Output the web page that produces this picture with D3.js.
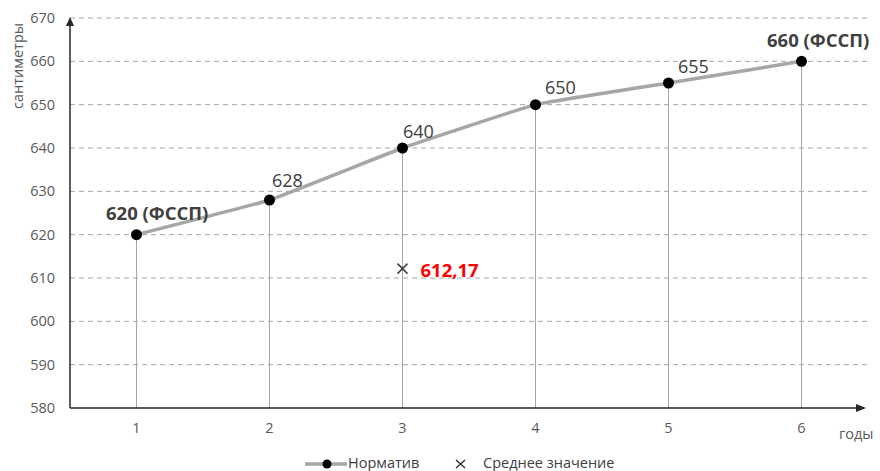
<!DOCTYPE html>
<html><head><meta charset="utf-8">
<script src="https://cdn.jsdelivr.net/npm/d3@7"></script>
<style>body{margin:0;background:#fff}svg{display:block;font-family:"Open Sans",sans-serif}</style>
</head><body><svg id="c" width="880" height="471"></svg>
<script>
const years = [1,2,3,4,5,6];
const norm = [620,628,640,650,655,660];
const normLabels = ["620 (ФССП)","628","640","650","655","660 (ФССП)"];
const boldLabel = [true,false,false,false,false,true];
const meanYear = 3;
const meanValue = 612.17;
const meanLabel = "612,17";
const yTicks = [580,590,600,610,620,630,640,650,660,670];

const svg = d3.select("#c");
const x0 = 70, x1 = 868, yTop = 18, yBot = 408;
const x = d3.scaleBand().domain(years).range([x0, x1]);
const cx = d => x(d) + x.bandwidth()/2;
const y = d3.scaleLinear().domain([580,670]).range([yBot, yTop]);

// gridlines
svg.append("g").selectAll("line").data(yTicks.filter(t=>t>580)).join("line")
  .attr("x1", x0).attr("x2", 870).attr("y1", d=>y(d)).attr("y2", d=>y(d))
  .attr("stroke","#a6a6a6").attr("stroke-dasharray","5,4").attr("stroke-width",1);

// y axis
const yAxis = d3.axisLeft(y).tickValues(yTicks).tickSize(0).tickPadding(15);
const gy = svg.append("g").attr("transform",`translate(${x0},0)`).call(yAxis);
gy.select(".domain").remove();
gy.selectAll("text").attr("fill","#595959").style("font-size","14.5px").style("font-family","'Open Sans',sans-serif");

// x axis
const xAxis = d3.axisBottom(x).tickSize(0).tickPadding(15);
const gx = svg.append("g").attr("transform",`translate(0,${yBot})`).call(xAxis);
gx.select(".domain").remove();
gx.selectAll("text").attr("fill","#595959").style("font-size","14.5px").style("font-family","'Open Sans',sans-serif");

// drop lines
svg.append("g").selectAll("line").data(years).join("line")
  .attr("x1", d=>cx(d)).attr("x2", d=>cx(d))
  .attr("y1", (d,i)=>y(norm[i])).attr("y2", yBot)
  .attr("stroke","#a6a6a6").attr("stroke-width",1);

// axis lines with arrows
svg.append("line").attr("x1",x0).attr("x2",x0).attr("y1",yBot).attr("y2",yTop+6)
  .attr("stroke","#262626").attr("stroke-width",1.5);
svg.append("path").attr("d",`M${x0-4},${yTop+8}L${x0},${yTop-1}L${x0+4},${yTop+8}Z`).attr("fill","#262626");
svg.append("line").attr("x1",x0).attr("x2",858).attr("y1",yBot).attr("y2",yBot)
  .attr("stroke","#262626").attr("stroke-width",1.5);
svg.append("path").attr("d",`M856,${yBot-4}L866,${yBot}L856,${yBot+4}Z`).attr("fill","#262626");

// line
const line = d3.line().x(d=>cx(d[0])).y(d=>y(d[1])).curve(d3.curveCardinal.tension(0.75));
svg.append("path").datum(years.map((d,i)=>[d,norm[i]])).attr("d",line)
  .attr("fill","none").attr("stroke","#a6a6a6").attr("stroke-width",3.5);

svg.append("g").selectAll("circle").data(years).join("circle")
  .attr("cx", d=>cx(d)).attr("cy",(d,i)=>y(norm[i])).attr("r",5.5).attr("fill","#000");

// data labels
const offs = [[-30.5,-15],[2.5,-13],[0.5,-10],[9.5,-11],[9.5,-10],[-34.5,-14]];
svg.append("g").selectAll("text").data(years).join("text")
  .attr("x",(d,i)=>cx(d)+offs[i][0]).attr("y",(d,i)=>y(norm[i])+offs[i][1])
  .attr("fill","#404040")
  .style("font-size",(d,i)=>boldLabel[i]?"18.5px":"18px").style("font-weight",(d,i)=>boldLabel[i]?"bold":"normal")
  .text((d,i)=>normLabels[i]);

// mean marker
const mx = cx(meanYear), my = y(meanValue);
svg.append("path").attr("d",`M${mx-5},${my-5}L${mx+5},${my+5}M${mx-5},${my+5}L${mx+5},${my-5}`)
  .attr("stroke","#404040").attr("stroke-width",1.5);
svg.append("text").attr("x",mx+18).attr("y",my+8).attr("fill","#ff0000")
  .style("font-size","18.5px").style("font-weight","bold").text(meanLabel);

// axis titles
svg.append("text").attr("transform","translate(23,66) rotate(-90)").attr("text-anchor","middle")
  .attr("fill","#595959").style("font-size","14.5px").text("сантиметры");
svg.append("text").attr("x",839).attr("y",439).attr("fill","#595959").style("font-size","14.5px").text("годы");

// legend
const ly = 464;
svg.append("line").attr("x1",305).attr("x2",347).attr("y1",ly).attr("y2",ly).attr("stroke","#a6a6a6").attr("stroke-width",3.5);
svg.append("circle").attr("cx",327).attr("cy",ly).attr("r",4.5).attr("fill","#000");
svg.append("text").attr("x",348).attr("y",ly+4).attr("fill","#404040").style("font-size","14.5px").text("Норматив");
svg.append("path").attr("d",`M456,${ly-4}L465,${ly+4}M456,${ly+4}L465,${ly-4}`).attr("stroke","#262626").attr("stroke-width",1.3);
svg.append("text").attr("x",483).attr("y",ly+4).attr("fill","#404040").style("font-size","14.5px").text("Среднее значение");
</script></body></html>
